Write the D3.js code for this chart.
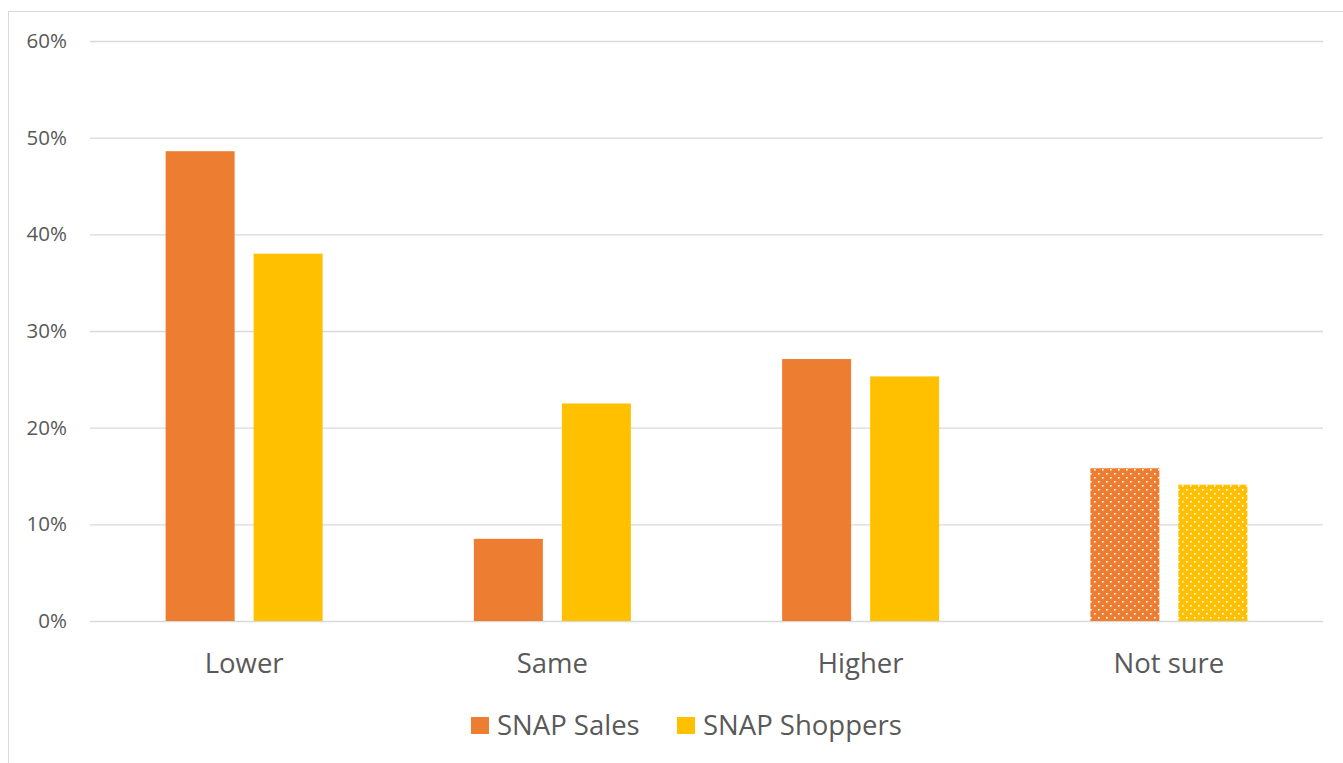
<!DOCTYPE html>
<html>
<head>
<meta charset="utf-8">
<script src="https://cdn.jsdelivr.net/npm/d3@7"></script>
<style>
  html, body { margin: 0; padding: 0; background: #fff; }
  svg { display: block; font-family: "Open Sans", "Noto Sans", sans-serif; }
</style>
</head>
<body>
<svg id="chart" width="1343" height="763"></svg>
<script>
// Survey answers and the share of each group choosing them
const categories = ["Lower", "Same", "Higher", "Not sure"];
const seriesNames = ["SNAP Sales", "SNAP Shoppers"];
const snapSales = [0.486, 0.085, 0.271, 0.158];
const snapShoppers = [0.380, 0.225, 0.253, 0.141];
const yTicks = [0, 0.1, 0.2, 0.3, 0.4, 0.5, 0.6];
const patterned = ["Not sure"];

const colors = { "SNAP Sales": "#ED7D31", "SNAP Shoppers": "#FFC000" };
const seriesValues = { "SNAP Sales": snapSales, "SNAP Shoppers": snapShoppers };

const svg = d3.select("#chart");
const W = 1343, H = 763;
const FONT = '"Open Sans", "Noto Sans", sans-serif';

// outer chart frame
svg.append("rect")
  .attr("x", 8.5).attr("y", 11.5)
  .attr("width", W + 20).attr("height", H + 20)
  .attr("fill", "none").attr("stroke", "#d9d9d9").attr("stroke-width", 1);

const plot = { left: 90, right: 1323, top: 41, bottom: 621 };

const x = d3.scaleBand().domain(categories).range([plot.left, plot.right]).padding(0);
const y = d3.scaleLinear().domain([0, 0.6]).range([plot.bottom, plot.top]);

const barW = 69, barGap = 19;
const xs = d3.scaleOrdinal().domain(seriesNames)
  .range([-(barW + barGap / 2), barGap / 2]);

// dotted fill patterns for the "Not sure" bars
const defs = svg.append("defs");
seriesNames.forEach((s, i) => {
  const p = defs.append("pattern")
    .attr("id", "dots" + i)
    .attr("patternUnits", "userSpaceOnUse")
    .attr("width", 8).attr("height", 8);
  p.append("rect").attr("width", 8).attr("height", 8).attr("fill", colors[s]);
  p.append("rect").attr("x", 2).attr("y", 1).attr("width", 1.6).attr("height", 1.6).attr("fill", "#fff");
  p.append("rect").attr("x", 6).attr("y", 5).attr("width", 1.6).attr("height", 1.6).attr("fill", "#fff");
});

// gridlines and y labels
const yAxis = d3.axisLeft(y).tickValues(yTicks).tickFormat(d3.format(".0%"))
  .tickSize(-(plot.right - plot.left)).tickPadding(23);
const gy = svg.append("g").attr("transform", `translate(${plot.left},0)`).call(yAxis);
gy.select(".domain").remove();
gy.selectAll(".tick line").attr("stroke", "#d9d9d9").attr("stroke-width", 1.3);
gy.selectAll(".tick text").attr("fill", "#595959").attr("font-size", 20.5)
  .attr("font-family", FONT);

// bars
seriesNames.forEach((s, si) => {
  svg.append("g").selectAll("rect")
    .data(categories.map((c, i) => ({ c, v: seriesValues[s][i] })))
    .join("rect")
    .attr("x", d => x(d.c) + x.bandwidth() / 2 + xs(s))
    .attr("y", d => y(d.v))
    .attr("width", barW)
    .attr("height", d => y(0) - y(d.v))
    .attr("fill", d => patterned.includes(d.c) ? `url(#dots${si})` : colors[s]);
});

// category labels
const xAxis = d3.axisBottom(x).tickSize(0).tickPadding(32);
const gx = svg.append("g").attr("transform", `translate(0,${plot.bottom})`).call(xAxis);
gx.select(".domain").remove();
gx.selectAll(".tick text").attr("fill", "#595959").attr("font-size", 27.5)
  .attr("font-family", FONT);

// legend
const legendItems = [
  { name: seriesNames[0], sx: 471, tx: 497 },
  { name: seriesNames[1], sx: 677, tx: 703 }
];
const lg = svg.append("g");
legendItems.forEach(it => {
  lg.append("rect").attr("x", it.sx).attr("y", 717).attr("width", 18).attr("height", 17)
    .attr("fill", colors[it.name]);
  lg.append("text").attr("x", it.tx).attr("y", 735)
    .attr("fill", "#595959").attr("font-size", 27.5).attr("font-family", FONT).text(it.name);
});
</script>
</body>
</html>
